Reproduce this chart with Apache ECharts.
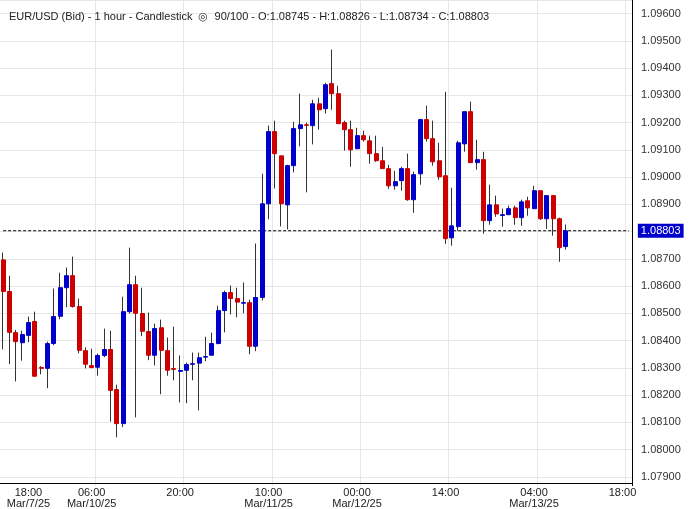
<!DOCTYPE html>
<html><head><meta charset="utf-8">
<script src="https://cdn.jsdelivr.net/npm/echarts@6/dist/echarts.min.js"></script>
<style>html,body{margin:0;padding:0;background:#fff}#c{width:690px;height:509px}</style>
</head><body><div id="c"></div>
<script>
const opens  = [1.08696,1.08580,1.08429,1.08392,1.08419,1.08470,1.08301,1.08298,1.08389,1.08489,1.08594,1.08638,1.08525,1.08363,1.08308,1.08302,1.08345,1.08367,1.08220,1.08095,1.08506,1.08605,1.08499,1.08433,1.08346,1.08447,1.08363,1.08297,1.08287,1.08291,1.08313,1.08317,1.08339,1.08346,1.08389,1.08510,1.08576,1.08554,1.08537,1.08539,1.08379,1.08558,1.08902,1.09167,1.09078,1.08898,1.09042,1.09178,1.09192,1.09189,1.09269,1.09251,1.09343,1.09306,1.09200,1.09174,1.09104,1.09152,1.09133,1.09086,1.09060,1.09031,1.08968,1.08987,1.09031,1.08917,1.09012,1.09211,1.09141,1.09060,1.09005,1.08777,1.08818,1.09122,1.09240,1.09053,1.09064,1.08840,1.08898,1.08859,1.08862,1.08887,1.08851,1.08913,1.08884,1.08950,1.08847,1.08932,1.08847,1.08745];
const closes = [1.08580,1.08430,1.08396,1.08422,1.08466,1.08269,1.08298,1.08389,1.08488,1.08594,1.08638,1.08525,1.08364,1.08313,1.08301,1.08345,1.08367,1.08217,1.08095,1.08506,1.08605,1.08500,1.08434,1.08346,1.08444,1.08364,1.08291,1.08294,1.08290,1.08312,1.08315,1.08337,1.08341,1.08389,1.08510,1.08576,1.08554,1.08541,1.08539,1.08379,1.08558,1.08902,1.09167,1.09086,1.08902,1.09042,1.09178,1.09192,1.09190,1.09269,1.09247,1.09339,1.09306,1.09196,1.09174,1.09100,1.09152,1.09137,1.09086,1.09060,1.09031,1.08968,1.08983,1.09031,1.08917,1.09009,1.09211,1.09141,1.09056,1.09001,1.08774,1.08821,1.09126,1.09240,1.09053,1.09064,1.08840,1.08898,1.08865,1.08862,1.08884,1.08851,1.08909,1.08887,1.08950,1.08847,1.08932,1.08847,1.08741,1.08803];
const lows   = [1.08368,1.08313,1.08250,1.08326,1.08394,1.08269,1.08276,1.08225,1.08383,1.08478,1.08522,1.08521,1.08353,1.08298,1.08298,1.08271,1.08339,1.08102,1.08045,1.08082,1.08499,1.08118,1.08416,1.08328,1.08309,1.08203,1.08271,1.08254,1.08173,1.08170,1.08254,1.08144,1.08324,1.08346,1.08386,1.08430,1.08496,1.08485,1.08500,1.08350,1.08361,1.08547,1.08845,1.08958,1.08819,1.08808,1.09017,1.09113,1.08944,1.09120,1.09174,1.09233,1.09247,1.09196,1.09097,1.09038,1.09104,1.09130,1.09049,1.09056,1.09031,1.08957,1.08954,1.08950,1.08913,1.08869,1.08972,1.09130,1.09042,1.08990,1.08755,1.08748,1.08803,1.09093,1.09053,1.09027,1.08792,1.08825,1.08854,1.08818,1.08862,1.08825,1.08821,1.08858,1.08884,1.08843,1.08810,1.08785,1.08689,1.08734];
const highs  = [1.08723,1.08638,1.08439,1.08436,1.08488,1.08506,1.08306,1.08396,1.08591,1.08649,1.08668,1.08708,1.08554,1.08375,1.08370,1.08352,1.08444,1.08436,1.08238,1.08561,1.08741,1.08638,1.08594,1.08503,1.08462,1.08477,1.08411,1.08451,1.08345,1.08319,1.08356,1.08356,1.08414,1.08429,1.08528,1.08583,1.08602,1.08594,1.08613,1.08550,1.08756,1.09012,1.09189,1.09207,1.09078,1.09045,1.09203,1.09306,1.09200,1.09284,1.09291,1.09346,1.09468,1.09335,1.09207,1.09207,1.09181,1.09170,1.09152,1.09152,1.09111,1.09045,1.09023,1.09038,1.09086,1.09020,1.09214,1.09262,1.09207,1.09126,1.09313,1.08961,1.09133,1.09240,1.09277,1.09137,1.09093,1.08972,1.08932,1.08884,1.08895,1.08895,1.08917,1.08928,1.08968,1.08950,1.08932,1.08932,1.08851,1.08826];
const slotCount = 100;
const tickIdx  = [4, 14, 28, 42, 56, 70, 84, 98];
const tickText = ['18:00\nMar/7/25','06:00\nMar/10/25','20:00','10:00\nMar/11/25','00:00\nMar/12/25','14:00','04:00\nMar/13/25','18:00'];
const gridIdx  = [15, 29, 43, 57, 71, 85, 99];
const lastPrice = 1.08803;
const titleText = 'EUR/USD (Bid) - 1 hour - Candlestick  \u25CE  90/100 - O:1.08745 - H:1.08826 - L:1.08734 - C:1.08803';

const cats = Array.from({length: slotCount}, (_, i) => String(i));
const wickData = opens.map((o, i) => { const m = (o + closes[i]) / 2; return [m, m, lows[i], highs[i]]; });
const bodyData = opens.map((o, i) => [o, closes[i], Math.min(o, closes[i]), Math.max(o, closes[i])]);
const font = 'Liberation Sans, Arial, sans-serif';

const chart = echarts.init(document.getElementById('c'));
chart.setOption({
  animation: false,
  title: { text: titleText, left: 4, top: 6, textStyle: { fontSize: 11, fontWeight: 'normal', color: '#222', fontFamily: font } },
  grid: [
    { left: -1.5, right: 58, top: 0, bottom: 5, containLabel: false },
    { left: -1.5, right: 58, top: 0, height: 485, containLabel: false }
  ],
  xAxis: [
    { type: 'category', gridIndex: 0, data: cats, boundaryGap: true, axisLine: { show: false }, axisTick: { show: false }, axisLabel: { show: false },
      splitLine: { show: true, interval: (i) => gridIdx.includes(i), lineStyle: { color: '#e6e6e6', width: 1 } } },
    { type: 'category', gridIndex: 1, data: cats, boundaryGap: true, z: 200,
      axisLine: { show: true, lineStyle: { color: '#000', width: 1 } }, axisTick: { show: false },
      splitLine: { show: false },
      axisLabel: { interval: (i) => tickIdx.includes(i), formatter: (v) => { const k = tickIdx.indexOf(Number(v)); return k >= 0 ? tickText[k] : ''; },
        color: '#222', fontSize: 11, lineHeight: 11, margin: 4, fontFamily: font } }
  ],
  yAxis: [{
    type: 'value', gridIndex: 0, position: 'right', min: 1.078, max: 1.0965, interval: 0.001,
    axisLine: { show: true, lineStyle: { color: '#000', width: 1 } }, axisTick: { show: false },
    splitLine: { show: true, lineStyle: { color: '#e6e6e6', width: 1 } },
    axisLabel: { formatter: (v) => v.toFixed(5), color: '#333', fontSize: 11, margin: 9, fontFamily: font, showMinLabel: false, showMaxLabel: false }
  }, { type: 'value', gridIndex: 1, show: false, min: 0, max: 1 }],
  graphic: [{ type: 'rect', z: 100, shape: { x: 0, y: 486, width: 690, height: 30 }, style: { fill: '#fff' } }],
  series: [
    { type: 'line', xAxisIndex: 0, yAxisIndex: 0, data: [[0, lastPrice], [slotCount - 1, lastPrice]], symbol: 'none', z: 1,
      lineStyle: { color: '#000', type: [3, 2], width: 1 },
      endLabel: { show: true, formatter: () => lastPrice.toFixed(5), color: '#fff', backgroundColor: '#0000cc', padding: [2, 3, 1, 3], fontSize: 11, fontFamily: font, distance: 9 } },
    { type: 'candlestick', xAxisIndex: 0, yAxisIndex: 0, data: wickData, barWidth: 1, z: 2,
      itemStyle: { color: '#333', color0: '#333', borderColor: '#333', borderColor0: '#333', borderWidth: 1 } },
    { type: 'candlestick', xAxisIndex: 0, yAxisIndex: 0, data: bodyData, barWidth: 4.5, z: 3,
      itemStyle: { color: '#0000cc', color0: '#cc0000', borderColor: '#0000cc', borderColor0: '#cc0000', borderWidth: 1 } }
  ]
});
</script></body></html>
